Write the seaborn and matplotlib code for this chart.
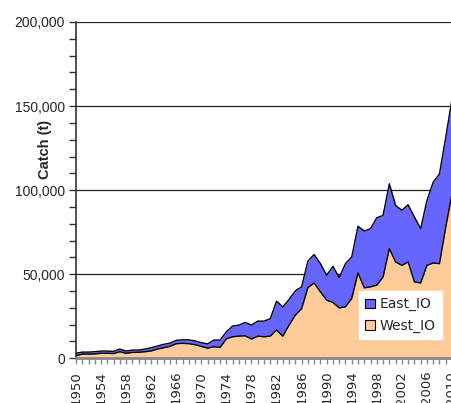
import numpy as np
import pandas as pd
import matplotlib
matplotlib.use("Agg")
import matplotlib.pyplot as plt
from matplotlib.patches import Patch
from matplotlib.ticker import MultipleLocator, FuncFormatter
import seaborn as sns

# Annual catch (t) by region, 1950-2010
years = list(range(1950, 2011))
west_io = [
    1500, 2500, 2500, 2600, 3000, 3000, 2800, 3900, 3000, 3500,
    3600, 3900, 4400, 5500, 6300, 7100, 8700, 8900, 8700, 8100,
    7100, 6000, 6900, 6500, 11600, 12800, 13200, 13400, 11450, 13200,
    12800, 13200, 16800, 13200, 19750, 25700, 29500, 42000, 44800, 39500,
    34600, 33200, 30000, 30600, 35600, 50800, 41900, 42500, 43500, 48400,
    65200, 57300, 55300, 57300, 45400, 44800, 55300, 56700, 56300, 78000,
    97900,
]
total_io = [
    3000, 3700, 3700, 3900, 4300, 4300, 4100, 5500, 4300, 4900,
    4900, 5500, 6300, 7300, 8300, 9000, 10700, 11000, 11000, 10300,
    9300, 8500, 10850, 10850, 15800, 19200, 19750, 21350, 19750, 22100,
    22100, 23500, 34000, 30600, 35000, 40100, 42500, 57800, 61700, 56300,
    49400, 54700, 48000, 56300, 60300, 78500, 75700, 77100, 83600, 85000,
    103800, 90900, 88000, 91300, 84000, 77100, 93900, 104700, 109700, 131400,
    154200,
]
east_io = [t - w for t, w in zip(total_io, west_io)]
series_names = ["East_IO", "West_IO"]
series_colors = {"East_IO": "#6666FF", "West_IO": "#FFCC99"}

df = pd.DataFrame({"Year": years, "West_IO": west_io, "East_IO": east_io})
df["Total"] = df["West_IO"] + df["East_IO"]

sns.set_style("white")
plt.rcParams["font.family"] = ["Liberation Sans", "DejaVu Sans"]

fig = plt.figure(figsize=(4.52, 4.03), dpi=100)
ax = fig.add_axes([76 / 452, 1 - 358.3 / 403, 1 - 76 / 452, (358.3 - 22) / 403])

# stacked areas
ax.fill_between(df["Year"], 0, df["West_IO"], color=series_colors["West_IO"], lw=0, zorder=2)
ax.fill_between(df["Year"], df["West_IO"], df["Total"], color=series_colors["East_IO"], lw=0, zorder=2)

# outlines of each layer
sns.lineplot(x="Year", y="West_IO", data=df, color="black", lw=1.0, ax=ax, zorder=3)
sns.lineplot(x="Year", y="Total", data=df, color="black", lw=1.0, ax=ax, zorder=3)

ax.set_xlim(1950, 2010)
ax.set_ylim(0, 200000)

# y axis
ax.yaxis.set_major_locator(MultipleLocator(50000))
ax.yaxis.set_minor_locator(MultipleLocator(10000))
ax.yaxis.set_major_formatter(FuncFormatter(lambda v, p: f"{int(v):,}"))
ax.grid(axis="y", which="major", color="#222222", lw=0.9, zorder=1)
ax.set_axisbelow(True)
ax.tick_params(axis="y", which="major", direction="out", length=5, width=1,
               color="#333333", labelsize=10, pad=3, left=True)
ax.tick_params(axis="y", which="minor", direction="out", length=5, width=1,
               color="#333333", left=True)

# x axis
ax.set_xticks(list(range(1950, 2011, 4)))
ax.xaxis.set_minor_locator(MultipleLocator(1))
ax.set_xticklabels([str(y) for y in range(1950, 2011, 4)], rotation=90,
                   fontfamily="DejaVu Sans", fontsize=9.5)
ax.tick_params(axis="x", which="both", direction="out", length=4, width=1,
               color="#888888", bottom=True, pad=5)

for side in ("top", "right"):
    ax.spines[side].set_visible(False)
ax.spines["left"].set_color("#333333")
ax.spines["left"].set_linewidth(1.2)
ax.spines["bottom"].set_color("#888888")
ax.spines["bottom"].set_linewidth(2)

ax.set_xlabel("")
ax.set_ylabel("Catch (t)", fontsize=10.5, fontweight="bold")
ax.yaxis.set_label_coords(-0.063, 0.62)

handles = [Patch(facecolor=series_colors[n], edgecolor="black", lw=0.8) for n in series_names]
leg = ax.legend(handles, series_names, loc="upper left",
                bbox_to_anchor=(359 / 452, 1 - 291 / 403), bbox_transform=fig.transFigure,
                frameon=True, fancybox=False, framealpha=1, facecolor="white",
                edgecolor="white", prop={"family": "DejaVu Sans", "size": 10},
                handlelength=0.7, handleheight=0.7, handletextpad=0.35,
                labelspacing=0.55, borderpad=0.45, borderaxespad=0)
leg.set_zorder(5)

fig.savefig("out.png", dpi=100)
